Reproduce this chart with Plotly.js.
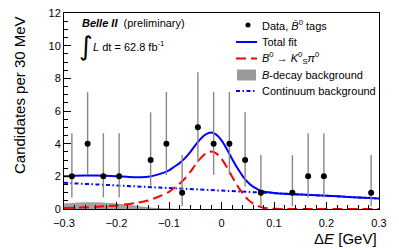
<!DOCTYPE html>
<html><head><meta charset="utf-8">
<script src="https://cdn.plot.ly/plotly-3.0.1.min.js"></script>
<style>html,body{margin:0;padding:0;background:#fff}#chart{width:399px;height:249px}</style>
</head><body><div id="chart"></div>
<script>
// Data points (bin centres, counts, asymmetric Poisson errors)
const binCenters = [-0.285,-0.255,-0.225,-0.195,-0.135,-0.105,-0.075,-0.045,-0.015,0.015,0.045,0.075,0.135,0.165,0.195,0.285];
const counts     = [2,4,2,2,3,4,1,5,4,4,3,1,1,2,2,1];
const errHigh    = [2.64,3.16,2.64,2.64,2.92,3.16,2.30,3.38,3.16,3.16,2.92,2.30,2.30,2.64,2.64,2.30];
const errLow     = [1.29,1.91,1.29,1.29,1.63,1.91,0.83,2.16,1.91,1.91,1.63,0.83,0.83,1.29,1.29,0.83];

// Fit curves sampled along deltaE
const curveX = [-0.3,-0.28,-0.26,-0.24,-0.22,-0.2,-0.18,-0.16,-0.14,-0.12,-0.1,-0.09,-0.08,-0.07,-0.06,-0.05,-0.04,-0.03,-0.02,-0.01,0,0.01,0.02,0.03,0.04,0.05,0.06,0.07,0.08,0.09,0.1,0.12,0.14,0.16,0.18,0.2,0.22,0.24,0.26,0.28,0.3];
const totalFit = [2.00,2.04,2.05,2.05,2.03,2.00,1.97,1.95,1.98,2.12,2.36,2.59,2.81,3.10,3.47,3.90,4.29,4.57,4.68,4.55,4.20,3.68,3.08,2.52,2.03,1.64,1.37,1.19,1.08,1.02,0.98,0.93,0.90,0.87,0.84,0.81,0.78,0.74,0.71,0.68,0.65];
const signal   = [0.06,0.08,0.10,0.13,0.17,0.22,0.29,0.38,0.52,0.75,1.05,1.30,1.55,1.85,2.25,2.70,3.10,3.40,3.52,3.41,3.07,2.57,1.99,1.44,0.97,0.59,0.34,0.18,0.08,0.04,0.01,0,0,0,0,0,0,0,0,0,0];
const bBkg     = [0.34,0.39,0.41,0.41,0.39,0.34,0.27,0.19,0.11,0.06,0.03,0.02,0.01,0.005,0,0,0,0,0,0,0,0,0,0,0,0,0,0,0,0,0,0,0,0,0,0,0,0,0,0,0];
const contBkg  = [1.60,1.57,1.54,1.51,1.47,1.44,1.41,1.38,1.35,1.31,1.28,1.27,1.25,1.24,1.22,1.20,1.19,1.17,1.16,1.14,1.13,1.11,1.09,1.08,1.06,1.05,1.03,1.01,1.00,0.98,0.97,0.93,0.90,0.87,0.84,0.81,0.78,0.74,0.71,0.68,0.65];

const xTicks = [-0.3,-0.2,-0.1,0,0.1,0.2,0.3];
const xTickText = ['\u22120.3','\u22120.2','\u22120.1','0','0.1','0.2','0.3'];
const yTicks = [0,2,4,6,8,10,12];

const FONT = 'Liberation Sans, Arial, Helvetica, sans-serif';

const traces = [
  {x: curveX, y: bBkg, type:'scatter', mode:'lines', line:{color:'#9a9a9a', width:0, shape:'spline', smoothing:0.8}, fill:'tozeroy', fillcolor:'#a0a0a0', hoverinfo:'skip'},
  {x: curveX, y: contBkg, type:'scatter', mode:'lines', line:{color:'#0000ff', width:2, dash:'4px,2.5px,1.5px,2.5px'}, hoverinfo:'skip'},
  {x: curveX, y: signal, type:'scatter', mode:'lines', line:{color:'#ff0000', width:2, dash:'10px,5px', shape:'spline', smoothing:0.8}, hoverinfo:'skip'},
  {x: curveX, y: totalFit, type:'scatter', mode:'lines', line:{color:'#0000ff', width:2, shape:'spline', smoothing:0.8}, hoverinfo:'skip'},
  {x: binCenters, y: counts, type:'scatter', mode:'markers', marker:{color:'#000', size:6},
   error_y:{type:'data', symmetric:false, array:errHigh, arrayminus:errLow, color:'#888888', thickness:1.4, width:0}}
];

function px(x){return (x-64)/315;}
function py(y){return (209-y)/196;}

const legendRows = [25,42,58.5,75,91];
const annotations = [
  {xref:'paper', yref:'paper', x:px(80), y:py(23), xanchor:'left', yanchor:'middle', showarrow:false,
   text:'<b><i>Belle II</i></b>  (preliminary)', font:{family:FONT, size:11, color:'#000'}},
  {xref:'paper', yref:'paper', x:px(77), y:py(46), xanchor:'left', yanchor:'middle', showarrow:false,
   text:'\u222B', font:{family:'DejaVu Sans, sans-serif', size:26, color:'#000'}},
  {xref:'paper', yref:'paper', x:px(91), y:py(46), xanchor:'left', yanchor:'middle', showarrow:false,
   text:'<i>L</i> dt = 62.8 fb<sup>-1</sup>', font:{family:FONT, size:11, color:'#000'}},
  {xref:'paper', yref:'paper', x:px(260), y:py(legendRows[0]), xanchor:'left', yanchor:'middle', showarrow:false,
   text:'Data, <i>B\u0304</i><sup>0</sup> tags', font:{family:FONT, size:11, color:'#000'}},
  {xref:'paper', yref:'paper', x:px(260), y:py(legendRows[1]), xanchor:'left', yanchor:'middle', showarrow:false,
   text:'Total fit', font:{family:FONT, size:11, color:'#000'}},
  {xref:'paper', yref:'paper', x:px(260), y:py(legendRows[2]), xanchor:'left', yanchor:'middle', showarrow:false,
   text:'<i>B</i><sup>0</sup> \u2192 <i>K</i><sup>0</sup><sub>S</sub><i>\u03C0</i><sup>0</sup>', font:{family:FONT, size:11, color:'#000'}},
  {xref:'paper', yref:'paper', x:px(260), y:py(legendRows[3]), xanchor:'left', yanchor:'middle', showarrow:false,
   text:'<i>B</i>-decay background', font:{family:FONT, size:11, color:'#000'}},
  {xref:'paper', yref:'paper', x:px(260), y:py(legendRows[4]), xanchor:'left', yanchor:'middle', showarrow:false,
   text:'Continuum background', font:{family:FONT, size:11, color:'#000'}},
  {xref:'paper', yref:'paper', x:1, y:py(238), xanchor:'right', yanchor:'middle', showarrow:false,
   text:'\u0394<i>E</i> [GeV]', font:{family:FONT, size:15, color:'#000'}},
  {xref:'paper', yref:'paper', x:px(20), y:py(14), xanchor:'center', yanchor:'top', showarrow:false, textangle:-90,
   text:'Candidates per 30 MeV', font:{family:FONT, size:15, color:'#000'}}
];

const shapes = [
  {type:'circle', xref:'paper', yref:'paper', x0:px(245.5), x1:px(250.5), y0:py(legendRows[0]+2.5), y1:py(legendRows[0]-2.5), fillcolor:'#000', line:{width:0}},
  {type:'line', xref:'paper', yref:'paper', x0:px(236), x1:px(257), y0:py(legendRows[1]), y1:py(legendRows[1]), line:{color:'#0000ff', width:2}},
  {type:'line', xref:'paper', yref:'paper', x0:px(236), x1:px(257), y0:py(legendRows[2]), y1:py(legendRows[2]), line:{color:'#ff0000', width:2, dash:'10px,5px'}},
  {type:'rect', xref:'paper', yref:'paper', x0:px(237), x1:px(256), y0:py(80.5), y1:py(69.5), fillcolor:'#999999', line:{width:0}},
  {type:'line', xref:'paper', yref:'paper', x0:px(236), x1:px(257), y0:py(legendRows[4]), y1:py(legendRows[4]), line:{color:'#0000ff', width:2, dash:'4px,2.5px,1.5px,2.5px'}}
];

const layout = {
  width:399, height:249,
  margin:{l:64, r:20, t:13, b:40, pad:0},
  paper_bgcolor:'#fff', plot_bgcolor:'#fff',
  showlegend:false,
  font:{family:FONT, size:11, color:'#000'},
  xaxis:{range:[-0.3,0.3], tickmode:'array', tickvals:xTicks, ticktext:xTickText,
    ticks:'inside', ticklen:7, tickwidth:1, tickcolor:'#000', ticklabelstandoff:4,
    minor:{tickmode:'linear', tick0:-0.3, dtick:0.02, ticks:'inside', ticklen:4, tickcolor:'#000', showgrid:false},
    showline:true, linecolor:'#000', linewidth:1, mirror:true, showgrid:false, zeroline:false,
    tickfont:{family:FONT, size:11, color:'#000'}},
  yaxis:{range:[0,12], tickmode:'array', tickvals:yTicks,
    ticks:'inside', ticklen:7, tickwidth:1, tickcolor:'#000',
    minor:{tickmode:'linear', tick0:0, dtick:0.5, ticks:'inside', ticklen:4, tickcolor:'#000', showgrid:false},
    showline:true, linecolor:'#000', linewidth:1, mirror:true, showgrid:false, zeroline:false,
    tickfont:{family:FONT, size:11, color:'#000'}},
  annotations: annotations,
  shapes: shapes
};

Plotly.newPlot('chart', traces, layout, {staticPlot:true, displayModeBar:false});
</script>
</body></html>
